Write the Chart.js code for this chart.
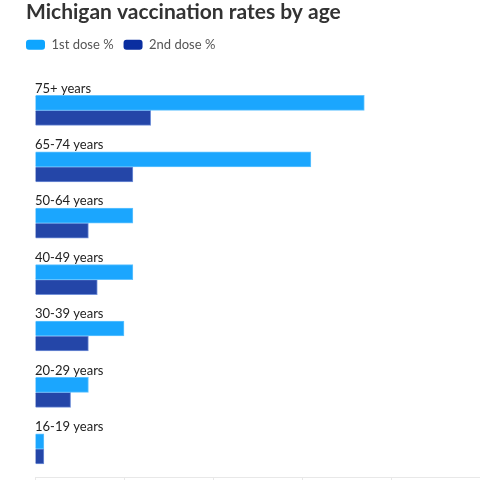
<!DOCTYPE html>
<html>
<head>
<meta charset="utf-8">
<title>Michigan vaccination rates by age</title>
<script src="https://cdn.jsdelivr.net/npm/chart.js@4.4.1/dist/chart.umd.min.js"></script>
<style>
    html, body { margin: 0; padding: 0; background: #ffffff; overflow: hidden; }
    #wrap { width: 480px; height: 480px; }
</style>
</head>
<body>
<div id="wrap"><canvas id="vaccineChart" width="480" height="480"></canvas></div>
<script>
// Age groups, top to bottom
const ageGroups = ['75+ years', '65-74 years', '50-64 years', '40-49 years', '30-39 years', '20-29 years', '16-19 years'];

// Share of population vaccinated (%)
const firstDose = [37, 31, 11, 11, 10, 6, 1];
const secondDose = [13, 11, 6, 7, 6, 4, 1];

const xTicks = [0, 10, 20, 30, 40, 50];

const colors = {
    first: '#1ba6fe',
    firstBorder: '#62c3ff',
    firstLegend: '#0ea5ff',
    second: '#2446a8',
    secondBorder: '#7391d8',
    secondLegend: '#0a2ea0',
    grid: '#e8e8e8'
};

const fontFamily = "'Lato', 'Noto Sans', sans-serif";

// Extra room under the legend before the bars start
const legendSpacer = {
    id: 'legendSpacer',
    beforeInit(chart) {
        const fit = chart.legend.fit;
        chart.legend.fit = function() {
            fit.bind(chart.legend)();
            this.height += 21;
        };
    },
    afterLayout(chart) {
        // line the legend up with the title instead of indenting by its padding
        chart.legend.left -= 10;
    }
};

const ctx = document.getElementById('vaccineChart');

new Chart(ctx, {
    type: 'bar',
    data: {
        labels: ageGroups,
        datasets: [
            {
                label: '1st dose %',
                data: firstDose,
                backgroundColor: colors.first,
                borderColor: colors.firstBorder,
                borderWidth: 1,
                barThickness: 15
            },
            {
                label: '2nd dose %',
                data: secondDose,
                backgroundColor: colors.second,
                borderColor: colors.secondBorder,
                borderWidth: 1,
                barThickness: 15
            }
        ]
    },
    plugins: [legendSpacer],
    options: {
        indexAxis: 'y',
        responsive: false,
        animation: false,
        layout: {
            padding: { left: 26, right: 0, top: 0, bottom: 0 }
        },
        plugins: {
            title: {
                display: true,
                text: 'Michigan vaccination rates by age',
                align: 'start',
                color: '#333333',
                padding: { top: 0, bottom: 3 },
                font: { size: 21, weight: 'bold', family: fontFamily }
            },
            legend: {
                display: true,
                position: 'top',
                align: 'start',
                labels: {
                    boxWidth: 19,
                    boxHeight: 10,
                    useBorderRadius: true,
                    borderRadius: 3,
                    padding: 10,
                    color: '#555555',
                    font: { size: 13, family: fontFamily },
                    generateLabels: function(chart) {
                        const legendColors = [colors.firstLegend, colors.secondLegend];
                        return chart.data.datasets.map((ds, i) => ({
                            text: ds.label,
                            fillStyle: legendColors[i],
                            strokeStyle: legendColors[i],
                            lineWidth: 0,
                            borderRadius: 3,
                            fontColor: '#555555',
                            hidden: false,
                            datasetIndex: i
                        }));
                    }
                }
            },
            tooltip: { enabled: false }
        },
        scales: {
            x: {
                min: 0,
                max: 50,
                afterBuildTicks: function(scale) {
                    scale.ticks = xTicks.map(v => ({ value: v }));
                },
                afterFit: function(scale) {
                    // only the short tick marks below the axis are visible
                    scale.height = 3;
                },
                grid: {
                    drawOnChartArea: false,
                    drawTicks: true,
                    tickLength: 3,
                    color: colors.grid
                },
                border: { display: true, color: colors.grid },
                ticks: { display: false, padding: 0 }
            },
            y: {
                afterFit: function(scale) {
                    // labels sit above the bars, so they need no room at the ends
                    scale.width = 9;
                    scale.paddingTop = 0;
                    scale.paddingBottom = 0;
                },
                grid: { display: false },
                border: { display: false },
                ticks: {
                    mirror: true,
                    padding: 0,
                    labelOffset: -22,
                    color: '#222222',
                    font: { size: 13, family: fontFamily }
                }
            }
        }
    }
});
</script>
</body>
</html>
